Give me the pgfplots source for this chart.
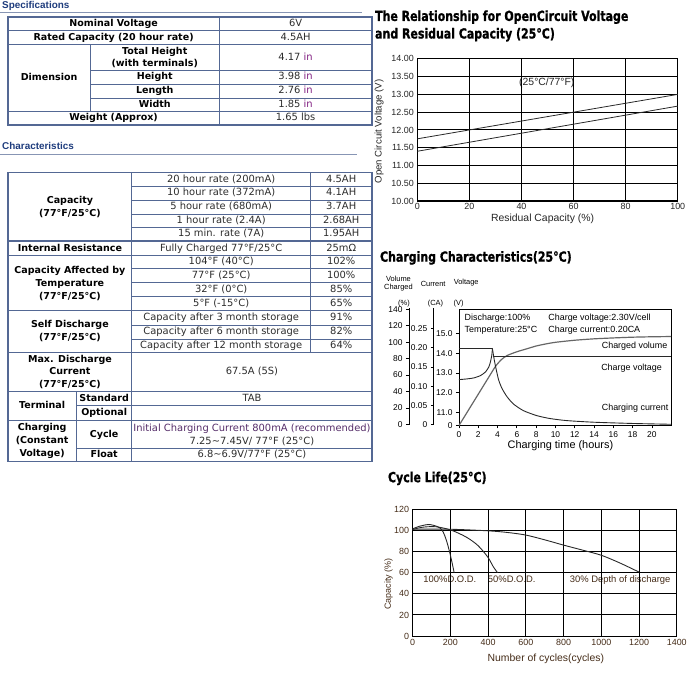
\documentclass[border=0pt]{standalone}
\usepackage{fontspec}
\usepackage{pgfplots}
\pgfplotsset{compat=1.18}
\setmainfont{DejaVu Sans}
\newfontfamily\chartfont{Liberation Sans}
\newfontfamily\hdrfont{Liberation Sans}
\newfontfamily\titlefont[FakeStretch=0.79,FakeBold=1]{DejaVu Sans}
\definecolor{bc}{RGB}{84,104,148}
\definecolor{hdr}{RGB}{30,60,125}
\definecolor{valc}{RGB}{45,45,45}
\definecolor{purp}{RGB}{128,30,128}
\definecolor{purp2}{RGB}{85,45,105}
\definecolor{brn}{RGB}{70,45,25}
\definecolor{crv}{RGB}{40,40,40}
\newcommand\TBold{\fontsize{9.6}{13}\selectfont\bfseries}
\newcommand\TReg{\fontsize{10}{13}\selectfont}
\newcommand\inu{\textcolor{purp}{in}}
\newcommand\CF[1]{\chartfont\fontsize{#1}{#1}\selectfont}
\newcommand\TF{\titlefont\bfseries\fontsize{14}{14}\selectfont}
\begin{document}
\begin{tikzpicture}
\begin{scope}[x=1pt,y=-1pt]
\path[use as bounding box, fill=white] (0,0) rectangle (690,684);
\tikzset{
 B1/.style={font=\TBold, text=black, inner sep=0, text height=7.2pt, text depth=2pt},
 R1/.style={font=\TReg, text=valc, inner sep=0, text height=7.2pt, text depth=2pt},
 BM/.style={font=\TBold, text=black, inner sep=0, align=center},
 RM/.style={font=\TReg, text=valc, inner sep=0, align=center},
 grid line/.style={bc, line width=1.1pt}
}
% ---------- headers ----------
\node[anchor=west, inner sep=0, font=\hdrfont\bfseries\fontsize{10}{10}\selectfont, text=hdr] at (2,6) {Specifications};
\draw[bc!70, line width=0.8pt] (0,12.7) -- (365,12.7);
\node[anchor=west, inner sep=0, font=\hdrfont\bfseries\fontsize{10}{10}\selectfont, text=hdr] at (2,147.5) {Characteristics};
\draw[bc!70, line width=0.8pt] (0,156) -- (360,156);
% ---------- spec table ----------
\draw[grid line, line width=1.4pt] (8,17) rectangle (375,126);
\foreach \y in {31,45,112} \draw[grid line] (8,\y) -- (375,\y);
\foreach \y in {71,85,99} \draw[grid line] (91,\y) -- (375,\y);
\draw[grid line] (221,17) -- (221,126);
\draw[grid line] (91,45) -- (91,112);
\node[B1] at (114.5,24) {Nominal Voltage};
\node[R1] at (298,24) {6V};
\node[B1] at (114.5,38) {Rated Capacity (20 hour rate)};
\node[R1] at (298,38) {4.5AH};
\node[B1] at (49.5,78.5) {Dimension};
\node[BM] at (156,58) {Total Height\\(with terminals)};
\node[R1] at (298,58) {4.17 \inu};
\node[B1] at (156,78) {Height};
\node[R1] at (298,78) {3.98 \inu};
\node[B1] at (156,92) {Length};
\node[R1] at (298,92) {2.76 \inu};
\node[B1] at (156,105.5) {Width};
\node[R1] at (298,105.5) {1.85 \inu};
\node[B1] at (114.5,119) {Weight (Approx)};
\node[R1] at (298,119) {1.65 lbs};
% ---------- characteristics table ----------
\draw[grid line, line width=1.4pt] (8,174) rectangle (375,465);
\draw[grid line] (133,174) -- (133,465);
\draw[grid line] (313,174) -- (313,355);
\draw[grid line] (77,395) -- (77,465);
\foreach \y in {243,258,313,355,395,424} \draw[grid line] (8,\y) -- (375,\y);
\foreach \y in {188,202,216,229,271,285,299,328,342} \draw[grid line] (133,\y) -- (375,\y);
\foreach \y in {409,452} \draw[grid line] (77,\y) -- (375,\y);
\node[BM] at (70.5,208.5) {Capacity\\(77°F/25°C)};
\node[R1] at (223,181) {20 hour rate (200mA)}; \node[R1] at (344,181) {4.5AH};
\node[R1] at (223,195) {10 hour rate (372mA)}; \node[R1] at (344,195) {4.1AH};
\node[R1] at (223,209) {5 hour rate (680mA)}; \node[R1] at (344,209) {3.7AH};
\node[R1] at (223,222.5) {1 hour rate (2.4A)}; \node[R1] at (344,222.5) {2.68AH};
\node[R1] at (223,236) {15 min. rate (7A)}; \node[R1] at (344,236) {1.95AH};
\node[B1] at (70.5,250.5) {Internal Resistance};
\node[R1] at (223,250.5) {Fully Charged 77°F/25°C}; \node[R1] at (344,250.5) {25mΩ};
\node[BM] at (70.5,285.5) {Capacity Affected by\\Temperature\\(77°F/25°C)};
\node[R1] at (223,264.5) {104°F (40°C)}; \node[R1] at (344,264.5) {102\%};
\node[R1] at (223,278) {77°F (25°C)}; \node[R1] at (344,278) {100\%};
\node[R1] at (223,292) {32°F (0°C)}; \node[R1] at (344,292) {85\%};
\node[R1] at (223,306) {5°F (-15°C)}; \node[R1] at (344,306) {65\%};
\node[BM] at (70.5,334) {Self Discharge\\(77°F/25°C)};
\node[R1] at (223,320.5) {Capacity after 3 month storage}; \node[R1] at (344,320.5) {91\%};
\node[R1] at (223,335) {Capacity after 6 month storage}; \node[R1] at (344,335) {82\%};
\node[R1] at (223,348.5) {Capacity after 12 month storage}; \node[R1] at (344,348.5) {64\%};
\node[BM] at (70.5,375) {Max. Discharge\\Current\\(77°F/25°C)};
\node[R1] at (254,375) {67.5A (5S)};
\node[B1] at (42.5,409.5) {Terminal};
\node[B1] at (105,402) {Standard};
\node[B1] at (105,416.5) {Optional};
\node[R1] at (254,402) {TAB};
\node[BM] at (42.5,444.5) {Charging\\(Constant\\Voltage)};
\node[B1] at (105,438) {Cycle};
\node[B1] at (105,458.5) {Float};
\node[RM] at (254,438) {\textcolor{purp2}{Initial Charging Current 800mA (recommended)}\\7.25\textasciitilde 7.45V/ 77°F (25°C)};
\node[R1] at (254,458.5) {6.8\textasciitilde 6.9V/77°F (25°C)};
% ---------- titles ----------
\node[anchor=west, inner sep=0, font=\TF] at (378,17.3) {The Relationship for OpenCircuit Voltage};
\node[anchor=west, inner sep=0, font=\TF] at (378,35) {and Residual Capacity (25°C)};
\node[anchor=west, inner sep=0, font=\TF] at (383,260) {Charging Characteristics(25°C)};
\node[anchor=west, inner sep=0, font=\TF] at (391,482.3) {Cycle Life(25°C)};
% ---------- chart 1 labels ----------
\node[rotate=90, inner sep=0, font=\CF{9.7}, text=black!85] at (382.3,132.5) {Open Circuit Voltage (V)};
\node[inner sep=0, font=\CF{10.5}, text=black!85] at (547,220.7) {Residual Capacity (\%)};
\node[inner sep=0, font=\CF{10.5}, text=black!85] at (551.3,83) {(25°C/77°F)};
% ---------- chart 2 labels ----------
\node[inner sep=0, font=\CF{7.5}, align=center] at (401.7,285.8) {Volume\\Charged};
\node[inner sep=0, font=\CF{7.5}] at (436.7,286) {Current};
\node[inner sep=0, font=\CF{7.5}] at (470,285.3) {Voltage};
\node[inner sep=0, font=\CF{7.5}] at (407.3,306) {(\%)};
\node[inner sep=0, font=\CF{7.5}] at (439,306) {(CA)};
\node[inner sep=0, font=\CF{7.5}] at (462.3,306) {(V)};
\node[anchor=west, inner sep=0, font=\CF{9}] at (468.3,321) {Discharge:100\%};
\node[anchor=west, inner sep=0, font=\CF{9}] at (468.3,333) {Temperature:25°C};
\node[anchor=west, inner sep=0, font=\CF{9}] at (552.7,321) {Charge voltage:2.30V/cell};
\node[anchor=west, inner sep=0, font=\CF{9}] at (552.7,333) {Charge current:0.20CA};
\node[anchor=east, inner sep=0, font=\CF{9}] at (673,348.7) {Charged volume};
\node[anchor=west, inner sep=0, font=\CF{9}] at (606,371.7) {Charge voltage};
\node[anchor=east, inner sep=0, font=\CF{9}] at (674,411.7) {Charging current};
\node[inner sep=0, font=\CF{11}] at (565,449) {Charging time (hours)};
% ---------- chart 3 labels ----------
\node[rotate=90, inner sep=0, font=\CF{9}, text=brn] at (391.7,589) {Capacity (\%)};
\node[inner sep=0, font=\CF{10.5}, text=brn] at (550.3,664) {Number of cycles(cycles)};
\node[anchor=west, inner sep=0, font=\CF{9.5}, text=brn] at (426.7,584.3) {100\%D.O.D.};
\node[anchor=west, inner sep=0, font=\CF{9.5}, text=brn] at (491.7,584.3) {50\%D.O.D.};
\node[anchor=west, inner sep=0, font=\CF{9.5}, text=brn] at (574.3,584.3) {30\% Depth of discharge};
\end{scope}

% ================= chart 1 =================
\begin{axis}[at={(420.7pt,-202.7pt)}, anchor=south west, scale only axis,
  width=262.6pt, height=143.4pt,
  xmin=0, xmax=100, ymin=10, ymax=14,
  xtick={0,20,40,60,80,100}, ytick={10,10.5,11,11.5,12,12.5,13,13.5,14},
  grid=major, major grid style={black, line width=0.9pt},
  axis line style={black, line width=1.2pt}, major tick length=0pt,
  /pgf/number format/assume math mode=true,
  tick label style={font=\CF{9}, text=black!85},
  yticklabel style={/pgf/number format/.cd, fixed, fixed zerofill, precision=2},
  xticklabel style={yshift=1pt}]
\addplot[crv, line width=0.8pt] coordinates {(0,11.75) (100,13.0)};
\addplot[crv, line width=0.8pt] coordinates {(0,11.40) (100,12.67)};
\end{axis}

% ================= chart 2 : left scales =================
\begin{axis}[at={(412.3pt,-428pt)}, anchor=south west, scale only axis,
  width=0.1pt, height=117.3pt, xmin=0, xmax=1, ymin=0, ymax=141.2,
  axis x line=none, axis y line=left, axis line style={-, black, line width=0.8pt},
  ytick={0,20,40,60,80,100,120,140}, tick align=outside, major tick length=3pt,
  tick style={black, line width=0.8pt},
  /pgf/number format/assume math mode=true,
  tick label style={font=\CF{8.5}}]
\addplot[draw=none] coordinates {(0,0)};
\end{axis}
\begin{axis}[at={(437.3pt,-428pt)}, anchor=south west, scale only axis,
  width=0.1pt, height=117.3pt, xmin=0, xmax=1, ymin=0, ymax=141.2,
  axis x line=none, axis y line=left, axis line style={-, black, line width=0.8pt},
  ytick={0,23.28,46.56,69.84,93.12,116.4},
  yticklabels={0,0.05,0.10,0.15,0.20,0.25},
  tick align=outside, major tick length=3pt,
  tick style={black, line width=0.8pt},
  tick label style={font=\CF{8.5}}]
\addplot[draw=none] coordinates {(0,0)};
\end{axis}

% ================= chart 2 : main =================
\begin{axis}[at={(462.7pt,-429pt)}, anchor=south west, scale only axis,
  width=214pt, height=117.3pt, xmin=0, xmax=22, ymin=0, ymax=141.2,
  xtick={0,2,4,6,8,10,12,14,16,18,20},
  ytick={0,16,39.9,63.8,87.7,111.6},
  yticklabels={0,11.0,12.0,13.0,14.0,15.0},
  xtick pos=bottom, ytick pos=left, tick align=outside, major tick length=3pt,
  tick style={black, line width=0.8pt},
  axis line style={black, line width=0.9pt},
  /pgf/number format/assume math mode=true,
  tick label style={font=\CF{8.5}}]
% charged volume (%)
\addplot[black!60, line width=1.2pt, smooth, tension=0.4] coordinates {
 (0,0) (1,19) (2,38) (3,57) (3.8,72) (4.4,80) (5,85) (6,89.5) (7,93) (8,96.5)
 (9,99) (10,101) (12,103.5) (14,105.2) (16,106.3) (18,107.2) (20,107.7) (22,108)};
% charging current (scaled: 0.20 CA = 93 units)
\addplot[crv, line width=0.9pt] coordinates {(0,94) (3.45,94)};
\addplot[crv, line width=0.9pt, smooth, tension=0.4] coordinates {
 (3.45,94) (3.5,91) (3.67,79) (3.88,67) (4.12,55) (4.46,45) (4.98,35) (5.66,26)
 (6.69,18) (8.07,12) (9.43,8.5) (11.15,6) (14,4) (18,2.5) (22,1.5)};
% charge voltage (scaled: 11.0 V = 16, 15.0 V = 111.6)
\addplot[crv, line width=0.9pt, smooth, tension=0.4] coordinates {
 (0,55.7) (0.86,56.6) (1.55,57.8) (2.23,60.6) (2.75,65) (3.09,71) (3.26,77) (3.4,85) (3.47,93)};
\addplot[crv, line width=0.9pt] coordinates {(3.55,84) (22,84)};
\end{axis}

% ================= chart 3 =================
\begin{axis}[at={(416pt,-641.3pt)}, anchor=south west, scale only axis,
  width=266.3pt, height=128pt,
  xmin=0, xmax=1400, ymin=0, ymax=120,
  xtick={0,200,400,600,800,1000,1200,1400}, ytick={0,20,40,60,80,100,120},
  grid=major, major grid style={black, line width=0.9pt},
  axis line style={black, line width=1.1pt}, major tick length=0pt,
  /pgf/number format/assume math mode=true,
  /pgf/number format/1000 sep={},
  tick label style={font=\CF{9}, text=brn}]
\addplot[crv, line width=0.9pt, smooth, tension=0.5] coordinates {
 (0,101.4) (38,103.9) (80,105.4) (109,104.8) (144,102.4) (162,98.3) (179,90.5) (196,79.5) (210,68.6) (220,60)};
\addplot[crv, line width=0.9pt, smooth, tension=0.5] coordinates {
 (0,100.8) (56,103.0) (126,103.3) (205,100.1) (284,93.6) (345,85.8) (398,74.8) (428,65.4) (450,60)};
\addplot[crv, line width=0.9pt, smooth, tension=0.5] coordinates {
 (0,101) (200,101) (400,99.5) (500,98) (600,95.5) (700,91) (800,86) (900,81.3) (1000,76.4) (1100,69) (1200,60.5)};
\end{axis}
\end{tikzpicture}
\end{document}
